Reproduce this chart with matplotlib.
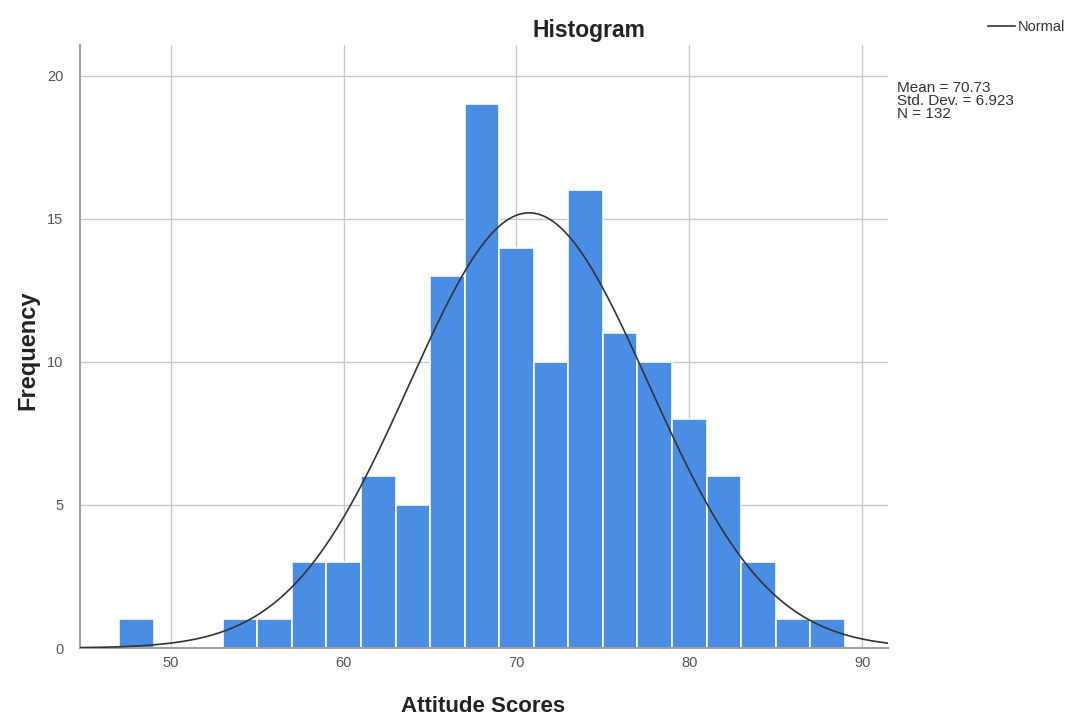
import numpy as np
import matplotlib
matplotlib.use("Agg")
import matplotlib.pyplot as plt

plt.rcParams["font.family"] = ["Liberation Sans", "DejaVu Sans"]

bin_edges = [47, 49, 51, 53, 55, 57, 59, 61, 63, 65, 67, 69, 71, 73, 75, 77, 79, 81, 83, 85, 87, 89]
counts = [1, 0, 0, 1, 1, 3, 3, 6, 5, 13, 19, 14, 10, 16, 11, 10, 8, 6, 3, 1, 1]
mean = 70.73
std = 6.923
n = 132
x_ticks = [50, 60, 70, 80, 90]
y_ticks = [0, 5, 10, 15, 20]

W, H = 1072, 717
fig = plt.figure(figsize=(W / 100, H / 100), dpi=100)
ax = fig.add_axes([80 / W, (H - 648) / H, (888 - 80) / W, (648 - 45) / H])

xmin, xmax = 44.74, 91.5
ax.set_xlim(xmin, xmax)
ax.set_ylim(0, 21.08)

for v in x_ticks:
    ax.axvline(v, color="#c8c8c8", lw=1.0, zorder=0)
for v in y_ticks[1:]:
    ax.axhline(v, color="#c8c8c8", lw=1.0, zorder=0)

lefts = bin_edges[:-1]
widths = np.diff(bin_edges)
ax.bar(lefts, counts, width=widths, align="edge", color="#4a8de5",
       edgecolor="white", linewidth=1.2, zorder=2)

xs = np.linspace(xmin, xmax, 500)
bw = 2.0
ys = n * bw / (std * np.sqrt(2 * np.pi)) * np.exp(-0.5 * ((xs - mean) / std) ** 2)
ax.plot(xs, ys, color="#333333", lw=1.2, zorder=3)

ax.set_xticks(x_ticks)
ax.set_yticks(y_ticks)
ax.tick_params(length=0, labelsize=10.5, colors="#555555")
ax.tick_params(axis="y", pad=12)
ax.tick_params(axis="x", pad=6)
for s in ["top", "right"]:
    ax.spines[s].set_visible(False)
for s in ["left", "bottom"]:
    ax.spines[s].set_color("#a0a0a0")
    ax.spines[s].set_linewidth(1.5)

fig.text(589 / W, 1 - 30 / H, "Histogram", fontsize=16.5, fontweight="bold",
         color="#222222", ha="center", va="center")
fig.text(483 / W, 1 - 706 / H, "Attitude Scores", fontsize=16, fontweight="bold",
         color="#222222", ha="center", va="center")
fig.text(28 / W, 1 - 350 / H, "Frequency", fontsize=17, fontweight="bold",
         color="#222222", ha="center", va="center", rotation=90)

fig.text(897 / W, 1 - 81 / H, f"Mean = {mean:.2f}\nStd. Dev. = {std:.3f}\nN = {n}",
         fontsize=11, color="#333333", va="top", ha="left", linespacing=0.9)
fig.lines.append(plt.Line2D([988 / W, 1015 / W], [1 - 26 / H, 1 - 26 / H],
                            transform=fig.transFigure, color="#333333", lw=1.2))
fig.text(1018 / W, 1 - 27 / H, "Normal", fontsize=10.5, color="#333333",
         va="center", ha="left")

fig.savefig("out.png", dpi=100, facecolor="white")
